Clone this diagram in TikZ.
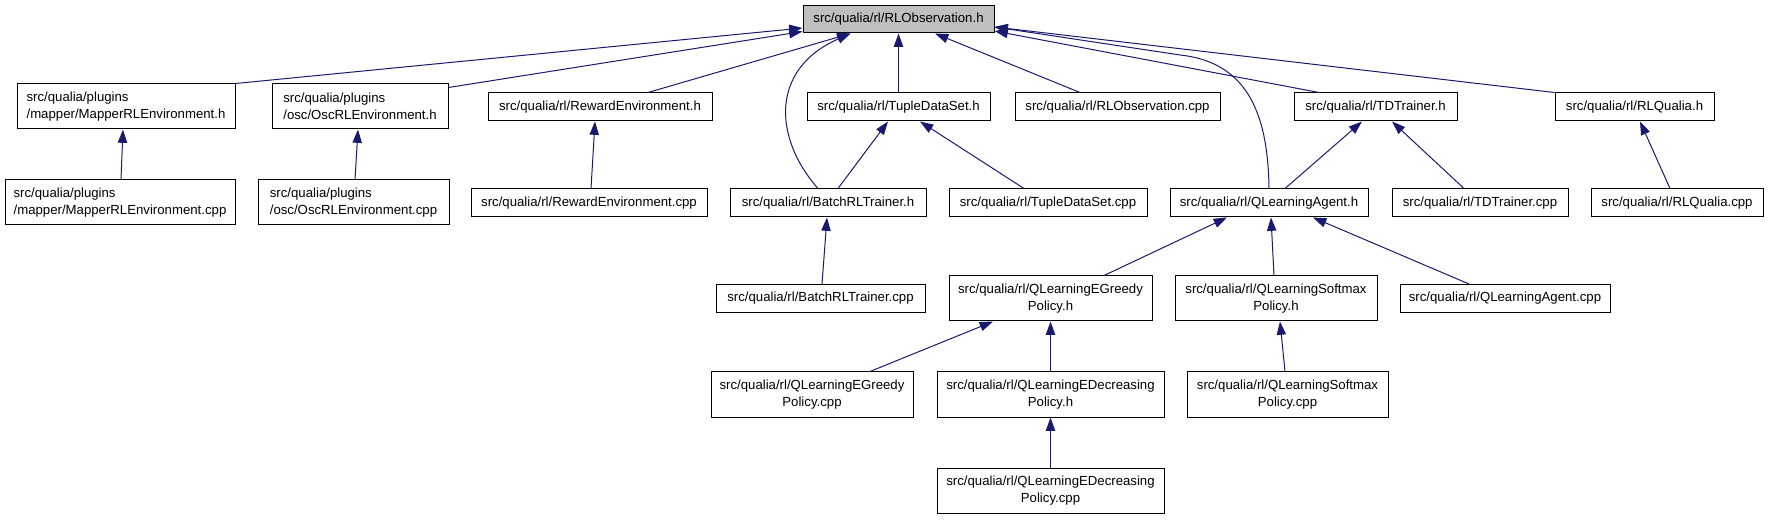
\documentclass[tikz,border=0pt]{standalone}
\usepackage{fontspec}
\setmainfont{Liberation Sans}
\usetikzlibrary{arrows.meta,calc}
\definecolor{edgeblue}{HTML}{191970}
\definecolor{rootgrey}{HTML}{BFBFBF}
\tikzset{
    file/.style={draw=black, line width=0.75pt, fill=white, inner sep=0pt,
        minimum height=21pt, font=\fontsize{9.9}{12.9}\selectfont},
    twoline/.style={file, minimum height=33.75pt},
    dep/.style={draw=edgeblue, line width=0.75pt, -{Triangle[length=10pt,width=7pt]}}
}
\begin{document}
\begin{tikzpicture}[x=0.75pt, y=-0.75pt]
    \useasboundingbox (0,0) rectangle (1768,520);
    \node[file, fill=rootgrey, minimum width=143.25pt, minimum height=20.25pt]
        (obsh) at (898.5,19.5) {src/qualia/rl/RLObservation.h};

    % one-line files under src/qualia/rl
    \foreach \n/\x/\y/\w/\fname in
        {rewardh/600/107/224/RewardEnvironment.h,
        tupleh/898.5/107/183/TupleDataSet.h,
        obscpp/1117.5/107/205/RLObservation.cpp,
        tdh/1375.5/107/163/TDTrainer.h,
        qualiah/1634.5/107/159/RLQualia.h,
        rewardcpp/589/203/236/RewardEnvironment.cpp,
        batchh/828/203/196/BatchRLTrainer.h,
        tuplecpp/1048/203/198/TupleDataSet.cpp,
        qah/1269/203/198/QLearningAgent.h,
        tdcpp/1480/203/176/TDTrainer.cpp,
        qualiacpp/1677/203/172/RLQualia.cpp,
        batchcpp/820.5/298.5/209/BatchRLTrainer.cpp,
        qacpp/1505/298.5/210/QLearningAgent.cpp}
        {
            \node[file, minimum width=\w*0.75pt] (\n) at (\x,\y) {src/qualia/rl/\fname};
        }

    % plugins
    \node[twoline, align=left, minimum width=163.5pt] (mapperh) at (126,106.5)
        {src/qualia/plugins\\/mapper/MapperRLEnvironment.h};
    \node[twoline, align=left, minimum width=132pt] (osch) at (360,106.5)
        {src/qualia/plugins\\/osc/OscRLEnvironment.h};
    \node[twoline, align=left, minimum width=172.5pt] (mappercpp) at (120,202.5)
        {src/qualia/plugins\\/mapper/MapperRLEnvironment.cpp};
    \node[twoline, align=left, minimum width=143.25pt] (osccpp) at (353.5,202.5)
        {src/qualia/plugins\\/osc/OscRLEnvironment.cpp};

    % policies
    \node[twoline, align=center, minimum width=152.25pt] (greedyh) at (1050.5,298.5)
        {src/qualia/rl/QLearningEGreedy\\Policy.h};
    \node[twoline, align=center, minimum width=151.5pt] (softmaxh) at (1276,298.5)
        {src/qualia/rl/QLearningSoftmax\\Policy.h};
    \node[twoline, align=center, minimum width=151.5pt] (greedycpp) at (812,394.5)
        {src/qualia/rl/QLearningEGreedy\\Policy.cpp};
    \node[twoline, align=center, minimum width=170.25pt] (decrh) at (1050.5,394.5)
        {src/qualia/rl/QLearningEDecreasing\\Policy.h};
    \node[twoline, align=center, minimum width=150.75pt] (softmaxcpp) at (1287.5,394.5)
        {src/qualia/rl/QLearningSoftmax\\Policy.cpp};
    \node[twoline, align=center, minimum width=170.25pt] (decrcpp) at (1050.5,490.5)
        {src/qualia/rl/QLearningEDecreasing\\Policy.cpp};

    % straight dependencies, top of child to bottom of parent
    \foreach \c/\cx/\p/\px in
        {rewardh/48/obsh/-48, tupleh/0/obsh/0, obscpp/-37.5/obsh/36.5,
        mappercpp/1/mapperh/-3, osccpp/1.5/osch/-2, rewardcpp/2/rewardh/-5,
        batchh/10/tupleh/-10.5, tuplecpp/-24/tupleh/21.5,
        qah/16/tdh/-13.5, tdcpp/-16/tdh/16.5, qualiacpp/-7/qualiah/5.5,
        batchcpp/1.5/batchh/-1, greedyh/53.5/qah/-42, softmaxh/-2/qah/2,
        qacpp/-36/qah/44, greedycpp/58/greedyh/-57.5, decrh/0/greedyh/0,
        softmaxcpp/-2.5/softmaxh/4, decrcpp/0/decrh/0}
        {
            \draw[dep] ($(\c.north)+(\cx,0)$) -- ($(\p.south)+(\px,0)$);
        }

    % into the sides of the root
    \draw[dep] (mapperh.north east) -- ($(obsh.west)+(0,8.5)$);
    \draw[dep] ($(osch.north east)+(0,4)$) -- ($(obsh.west)+(0,12)$);
    \draw[dep] (qualiah.north west) -- ($(obsh.east)+(0,7.5)$);
    \draw[dep] ($(tdh.north)+(-56.5,0)$) -- ($(obsh.east)+(0,11.5)$);
    \draw[dep] ($(batchh.north)+(-10,0)$) .. controls (775,140) and (768,70) .. ($(obsh.south)+(-48,0)$);
    \draw[dep] (qah.north) .. controls (1268,110) and (1245,62) .. (1180,55) -- ($(obsh.east)+(0,7.5)$);
\end{tikzpicture}
\end{document}
